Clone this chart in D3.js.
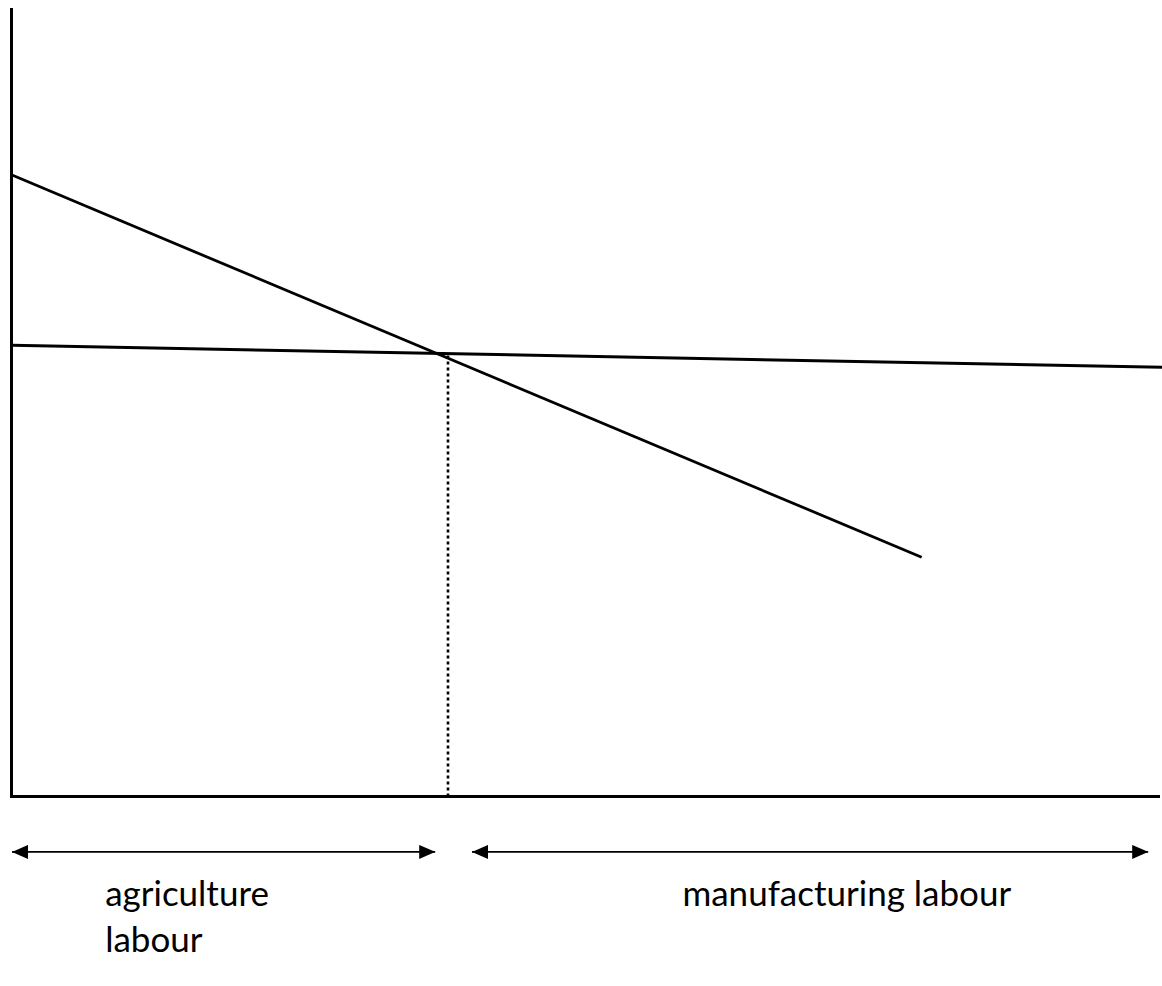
<!DOCTYPE html>
<html>
<head>
<meta charset="utf-8">
<script src="https://cdn.jsdelivr.net/npm/d3@7"></script>
<style>
  body { margin: 0; background: #fff; }
  svg { display: block; }
  text { font-family: Lato, "Open Sans", sans-serif; fill: #000; }
</style>
</head>
<body>
<div id="chart"></div>
<script>
let width = 1162,
    height = 986,
    margin = ({ top: 8, right: 0, bottom: 190, left: 12 });

// data, in axis units (0..100 on both axes)
const downLine = [[0, 78.8], [79.1, 30.3]];       // falling schedule
const flatLine = [[0, 57.2], [100, 54.4]];        // nearly flat schedule
const dropX = 37.9;                                // dotted split point
const dropTop = 55.9;
const arrowY = -7.1;
const arrowSpans = [[0, 36.8], [40.0, 98.8]];     // agriculture, manufacturing
const labels = [
  { x: 8.1, lines: ["agriculture", "labour"] },
  { x: 58.3, lines: ["manufacturing labour"] }
];

const svg = d3.select("#chart")
  .append("svg")
  .attr("width", width)
  .attr("height", height);

let x = d3.scaleLinear()
  .domain([0, 100])
  .range([margin.left, width - margin.right]);

let y = d3.scaleLinear()
  .domain([0, 100])
  .range([height - margin.bottom, margin.top]);

const line = d3.line().x(d => x(d[0])).y(d => y(d[1]));

// arrow markers
const defs = svg.append("defs");
["end", "start"].forEach(k => {
  defs.append("marker")
    .attr("id", "arrow-" + k)
    .attr("viewBox", "0 0 16 14")
    .attr("refX", k == "end" ? 16 : 0)
    .attr("refY", 7)
    .attr("markerWidth", 16)
    .attr("markerHeight", 14)
    .attr("markerUnits", "userSpaceOnUse")
    .attr("orient", "auto")
    .append("path")
    .attr("d", k == "end" ? "M0,0L16,7L0,14Z" : "M16,0L0,7L16,14Z")
    .attr("fill", "#000");
});

const x0 = Math.round(x(0)) - 0.5, y0 = Math.round(y(0)) + 0.5;

// axes (plain lines, no ticks)
svg.append("line")
  .attr("x1", x0).attr("x2", x0)
  .attr("y1", y(100)).attr("y2", y0 + 1.5)
  .attr("stroke", "#000").attr("stroke-width", 3);

svg.append("line")
  .attr("x1", x0 - 1.5).attr("x2", x(100) - 2)
  .attr("y1", y0).attr("y2", y0)
  .attr("stroke", "#000").attr("stroke-width", 3);

// schedules
svg.append("path")
  .datum(downLine)
  .attr("d", line)
  .attr("fill", "none")
  .attr("stroke", "#000")
  .attr("stroke-width", 2.8);

svg.append("path")
  .datum(flatLine)
  .attr("d", line)
  .attr("fill", "none")
  .attr("stroke", "#000")
  .attr("stroke-width", 3);

// dotted drop line
svg.append("line")
  .attr("x1", Math.round(x(dropX))).attr("x2", Math.round(x(dropX)))
  .attr("y1", y(dropTop)).attr("y2", y0 - 1)
  .attr("stroke", "#000")
  .attr("stroke-width", 2.6)
  .attr("stroke-dasharray", "3,3");

// double-headed arrows
svg.selectAll(".span")
  .data(arrowSpans)
  .join("line")
  .attr("class", "span")
  .attr("x1", d => x(d[0])).attr("x2", d => x(d[1]))
  .attr("y1", y(arrowY)).attr("y2", y(arrowY))
  .attr("stroke", "#000")
  .attr("stroke-width", 1.8)
  .attr("marker-start", "url(#arrow-start)")
  .attr("marker-end", "url(#arrow-end)");

// labels
labels.forEach(l => {
  l.lines.forEach((t, i) => {
    svg.append("text")
      .attr("x", x(l.x))
      .attr("y", 906 + i * 46)
      .attr("font-size", 35)
      .text(t);
  });
});
</script>
</body>
</html>
